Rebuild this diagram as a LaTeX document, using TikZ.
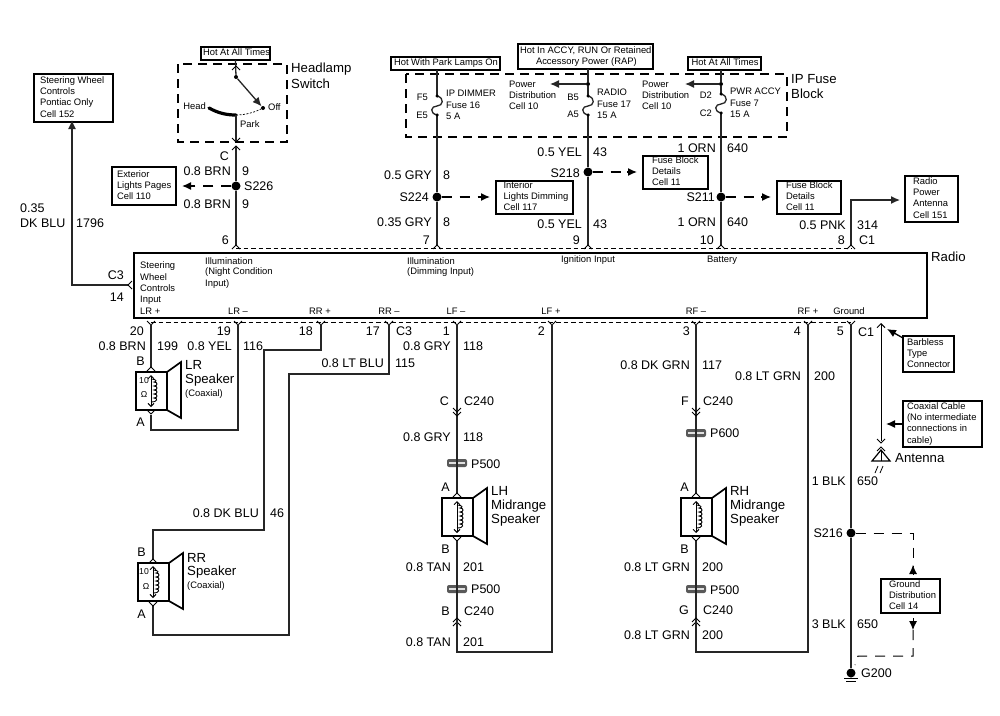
\documentclass[tikz,border=0pt]{standalone}
\usepackage{fontspec}
\setmainfont{Liberation Sans}
\usetikzlibrary{arrows.meta}
\newcounter{txtn}
\newcommand{\bigt}[3]{\stepcounter{txtn}\node[bigtxt,anchor=#1,name=bt\arabic{txtn}] at (#2) {#3};}
\newcommand{\namet}[2]{\stepcounter{txtn}\node[nametxt,anchor=west,name=nt\arabic{txtn}] at (#1) {#2};}
\newcommand{\smallt}[3]{\stepcounter{txtn}\node[smalltxt,anchor=#1,name=st\arabic{txtn}] at (#2) {#3};}
\newcommand{\tinyt}[2]{\stepcounter{txtn}\node[inner sep=0pt,font=\fontsize{8.6}{10}\selectfont,name=tt\arabic{txtn}] at (#1) {#2};}
% name, x1, y1, x2, y2, padding, text
\newcommand{\boxnode}[7]{%
 \pgfmathsetmacro{\bw}{#4-#2}\pgfmathsetmacro{\bh}{#5-#3}%
 \pgfmathsetmacro{\bcx}{(#2+#4)/2}\pgfmathsetmacro{\bcy}{(#3+#5)/2}%
 \pgfmathsetmacro{\btw}{\bw-2*#6}%
 \node[infobox,minimum width=\bw pt,minimum height=\bh pt] (#1) at (\bcx,\bcy) {\makebox[\btw pt][l]{\begin{tabular}{@{}l@{}}#7\end{tabular}}};}
\tikzset{
 bigtxt/.style={inner sep=0pt,font=\fontsize{12.5}{15}\selectfont},
 nametxt/.style={inner sep=0pt,font=\fontsize{13.2}{15}\selectfont},
 smalltxt/.style={inner sep=0pt,font=\fontsize{9.4}{11.4}\selectfont},
 infobox/.style={draw=black,line width=1.7pt,fill=white,inner sep=0pt,outer sep=0pt,font=\fontsize{9.4}{11.2}\selectfont},
 wire/.style={line width=1.3pt,draw=black!85},
 dashwire/.style={line width=1.4pt,draw=black,dash pattern=on 10pt off 8pt},
 thindash/.style={line width=0.9pt,draw=black,dash pattern=on 4.5pt off 3pt},
 blockdash/.style={line width=1.9pt,draw=black,dash pattern=on 9pt off 6pt},
 tip/.style={-{Latex[length=9pt,width=8pt]}},
 jdot/.style={circle,fill=black,inner sep=0pt,minimum size=9pt},
 smalldot/.style={circle,fill=black,inner sep=0pt,minimum size=4pt},
 chevu/.pic={\draw[line width=1pt] (-4,4)--(0,0)--(4,4);},
 chevd/.pic={\draw[line width=1pt] (-4,-4)--(0,0)--(4,-4);},
 plugp/.pic={
   \fill[black!65,rounded corners=2pt] (-10,-4) rectangle (10,4);
   \fill[black!12] (-8,-1.4) rectangle (8,1.4);
   \draw[line width=1.3pt,black!85] (0,-4)--(0,4);},
 speaker/.pic={
   \draw[line width=1.7pt] (-15,0) rectangle (16,38);
   \draw[line width=1.7pt] (16,0)--(30,-10)--(30,46)--(16,38);
   \draw[line width=0.9pt,{Straight Barb[length=3pt,width=6pt]}-{Straight Barb[length=3pt,width=6pt]}] (0,3)--(0,35);
   \draw[line width=0.9pt] (0,7) .. controls (6,7) and (6,10) .. (3,10) .. controls (7,10) and (7,14) .. (3,14)
      .. controls (7,14) and (7,18) .. (3,18) .. controls (7,18) and (7,22) .. (3,22)
      .. controls (7,22) and (7,26) .. (3,26) .. controls (7,26) and (7,30) .. (0,30);},
}
\begin{document}
\begin{tikzpicture}[x=1pt,y=-1pt]
\useasboundingbox (0,0) rectangle (1000,715);
\fill[white] (0,0) rectangle (1000,715);

% ---------- blocks
\draw[blockdash] (178,64) rectangle (287,142);
\draw[blockdash] (406,74) rectangle (787,137);
\draw[line width=1.8pt] (134,253) rectangle (927,318);
\draw[thindash] (236,248) -- (852,248);
\draw[thindash] (151,322) -- (851,322);

% ---------- info boxes
\boxnode{hotA}{201}{47}{270}{60}{2}{Hot At All Times}
\boxnode{hotP}{391}{57}{500}{70}{3}{Hot With Park Lamps On}
\boxnode{hotR}{518}{44}{653}{69}{2}{Hot In ACCY, RUN Or Retained\\\hspace*{16pt}Accessory Power (RAP)}
\boxnode{hotB}{688}{57}{761}{70}{3.5}{Hot At All Times}
\boxnode{swc}{34}{74}{113}{122}{6}{Steering Wheel\\Controls\\Pontiac Only\\Cell 152}
\boxnode{ext}{112}{167}{176}{205}{5}{Exterior\\Lights Pages\\Cell 110}
\boxnode{ild}{496}{181}{573}{214}{7.5}{Interior\\Lights Dimming\\Cell 117}
\boxnode{fb1}{643}{156}{708}{189}{9}{Fuse Block\\Details\\Cell 11}
\boxnode{fb2}{777}{181}{841}{214}{9}{Fuse Block\\Details\\Cell 11}
\boxnode{rpa}{905}{176}{958}{222}{8}{Radio\\Power\\Antenna\\Cell 151}
\boxnode{bar}{903}{336}{954}{372}{4}{Barbless\\Type\\Connector}
\boxnode{coax}{903}{401}{982}{447}{4}{Coaxial Cable\\(No intermediate\\connections in\\cable)}
\boxnode{gnd}{881}{580}{940}{612}{8}{Ground\\Distribution\\Cell 14}

% ---------- junction dots
\node[jdot] (s226) at (236,186) {};
\node[jdot] (s224) at (437,197) {};
\node[jdot] (s218) at (588,172) {};
\node[jdot] (s211) at (721,197) {};
\node[jdot] (s216) at (851,533) {};
\node[jdot] (g200) at (851,673) {};
\node[smalldot] (piv) at (236,77) {};
\node[smalldot] (off) at (263,108) {};
\node[smalldot] (pk1) at (588,84) {};
\node[smalldot] (pk2) at (721,84) {};

% ---------- named points
\coordinate (parkp) at (236,115);
\coordinate (headp) at (209,108);
\coordinate (swbot) at (236,142);
\coordinate (r6) at (236,246);
\coordinate (r7) at (437,246);
\coordinate (r9) at (588,246);
\coordinate (r10) at (721,246);
\coordinate (r8) at (851,246);
\coordinate (c3) at (128,285);
\coordinate (c3k) at (72,285);
\coordinate (f5) at (437,96);
\coordinate (e5) at (437,115);
\coordinate (b5) at (588,96);
\coordinate (a5) at (588,115);
\coordinate (d2) at (721,94);
\coordinate (c2) at (721,113);
\coordinate (pwr1) at (550,84);
\coordinate (pwr2) at (685,84);

% ---------- upper wires
\draw[wire] (hotA.south) -- (piv);
\draw[wire,tip] (piv) -- (off);
\draw[line width=3.2pt,line cap=round] (headp) .. controls (218,113) and (226,115) .. (parkp);
\draw[line width=0.7pt,dash pattern=on 2pt off 1.5pt] (parkp) .. controls (246,115) and (255,112) .. (off);
\draw[wire] (parkp) -- (swbot);
\pic at (236,66) {chevu};
\pic at (236,142) {chevd};
\pic at (236,146) {chevu};
\draw[wire] (236,147) -- (s226) -- (r6);
\pic at (236,245) {chevu};
\draw[dashwire] (s226) -- (192,186);
\draw[tip,line width=1.4pt] (192,186) -- ([xshift=6pt]ext.east);

\draw[wire] (hotP.south -| f5) -- (f5);
\draw[wire] (f5) .. controls (445,98) and (443,106) .. (437,106) .. controls (431,106) and (429,113) .. (e5);
\draw[wire] (e5) -- (s224) -- (r7);
\pic at (437,245) {chevu};
\node[smalldot,minimum size=3.5pt] (f5d) at (f5) {};
\node[smalldot,minimum size=3.5pt] (e5d) at (e5) {};
\draw[dashwire] (s224) -- (480,197);
\draw[tip,line width=1.4pt] (480,197) -- ([xshift=-6pt]ild.west |- s224);

\draw[wire] (hotR.south -| pk1) -- (pk1) -- (b5);
\draw[wire] (b5) .. controls (596,98) and (594,106) .. (588,106) .. controls (582,106) and (580,113) .. (a5);
\draw[wire] (a5) -- (s218) -- (r9);
\pic at (588,245) {chevu};
\node[smalldot,minimum size=3.5pt] (b5d) at (b5) {};
\node[smalldot,minimum size=3.5pt] (a5d) at (a5) {};
\draw[wire,tip] (pk1) -- (pwr1);
\draw[dashwire] (s218) -- (627,172);
\draw[tip,line width=1.4pt] (627,172) -- ([xshift=-6pt]fb1.west |- s218);

\draw[wire] (hotB.south -| pk2) -- (pk2) -- (d2);
\draw[wire] (d2) .. controls (729,96) and (727,104) .. (721,104) .. controls (715,104) and (713,111) .. (c2);
\draw[wire] (c2) -- (s211) -- (r10);
\pic at (721,245) {chevu};
\node[smalldot,minimum size=3.5pt] (d2d) at (d2) {};
\node[smalldot,minimum size=3.5pt] (c2d) at (c2) {};
\draw[wire,tip] (pk2) -- (pwr2);
\draw[dashwire] (s211) -- (761,197);
\draw[tip,line width=1.4pt] (761,197) -- ([xshift=-6pt]fb2.west |- s211);

\draw[wire,tip] (r8) |- ([xshift=-5pt]rpa.west |- 851,200);
\pic at (851,245) {chevu};

\draw[wire,tip] (c3) -- (c3k) -- ([yshift=2pt]swc.south -| c3k);
\draw[line width=1pt] (132,281)--(128,285)--(132,289);

% ---------- lower wires
\coordinate (l20) at (151,324);  \coordinate (lrB) at (151,367);
\coordinate (l19) at (238,324);  \coordinate (lrA) at (151,415); \coordinate (l19c) at (238,430); \coordinate (l19d) at (151,430);
\coordinate (l18) at (321,324);  \coordinate (l18a) at (321,350); \coordinate (l18b) at (264,350); \coordinate (l18c) at (264,530); \coordinate (l18d) at (153,530); \coordinate (rrB) at (153,559);
\coordinate (l17) at (389,324);  \coordinate (l17a) at (389,374); \coordinate (l17b) at (289,374); \coordinate (l17c) at (289,635); \coordinate (l17d) at (153,635); \coordinate (rrA) at (153,606);
\coordinate (l1) at (457,324);
\coordinate (l2) at (552,324); \coordinate (l2a) at (552,652); \coordinate (l1e) at (457,652);
\coordinate (l3) at (696,324);
\coordinate (l4) at (808,324); \coordinate (l4a) at (808,652); \coordinate (l3e) at (696,652);
\coordinate (l5) at (851,324);

\foreach \xx in {151,238,321,389,457,552,696,808,851} {\pic at (\xx,325) {chevd};}

\draw[wire] (l20) -- (lrB);
\pic at (151,367) {chevu};
\pic at (151,414) {chevd};
\draw[wire] (l19) -- (l19c) -- (l19d) -- (lrA);
\draw[wire] (l18) -- (l18a) -- (l18b) -- (l18c) -- (l18d) -- (rrB);
\pic at (153,559) {chevu};
\draw[wire] (l17) -- (l17a) -- (l17b) -- (l17c) -- (l17d) -- (rrA);
\pic at (153,606) {chevd};

\pic at (151,372) {speaker};
\pic at (153,563) {speaker};
\pic at (457,498) {speaker};
\pic at (696,498) {speaker};

% LH midrange path
\draw[wire] (l1) -- (457,493);
\pic at (457,412) {chevd};
\pic at (457,416) {chevd};
\pic at (457,463) {plugp};
\pic at (457,493) {chevu};
\pic at (457,541) {chevd};
\draw[wire] (457,541) -- (457,619);
\pic at (457,589) {plugp};
\pic at (457,618) {chevu};
\pic at (457,622) {chevu};
\draw[wire] (457,619) -- (l1e) -- (l2a) -- (l2);

% RH midrange path
\draw[wire] (l3) -- (696,493);
\pic at (696,412) {chevd};
\pic at (696,416) {chevd};
\pic at (696,433) {plugp};
\pic at (696,493) {chevu};
\pic at (696,541) {chevd};
\draw[wire] (696,541) -- (696,619);
\pic at (696,589) {plugp};
\pic at (696,618) {chevu};
\pic at (696,622) {chevu};
\draw[wire] (696,619) -- (l3e) -- (l4a) -- (l4);

% ground
\draw[wire] (l5) -- (s216) -- (g200);
\draw[line width=0.9pt] (844,678)--(858,678) (846,681)--(856,681);
\coordinate (gt) at (913,533);
\coordinate (gb) at (913,656);
\coordinate (gc) at (858,656);
\draw[dashwire,line width=1pt] (s216) -- (gt) -- (913,566);
\draw[line width=0.9pt,tip] (913,574) -- (913,565);
\draw[line width=0.9pt,tip] (913,618) -- (913,630);
\draw[dashwire,line width=1pt] (913,630) -- (gb) -- (gc) -- (855,665);

% antenna
\coordinate (ant) at (881,450);
\coordinate (antt) at (881,323);
\draw[line width=1pt,{Straight Barb[length=4pt,width=8pt]}-] (antt) -- (881,441);
\pic at (881,443) {chevd};
\pic at (881,447) {chevu};
\draw[line width=1.2pt] (881,450)--(872,461)--(890,461)--cycle;
\draw[line width=1pt] (881,450)--(881,461);
\draw[line width=0.8pt] (878,466)--(875,473) (883,466)--(880,473);
\draw[tip,line width=1.3pt] (bar.north west) ++(0,2) -- (887,329);
\draw[tip,line width=1.3pt] (coax.west |- 0,424) -- (886,424);

% ---------- name labels
\namet{291,69}{Headlamp}
\namet{291,84}{Switch}
\namet{791,79}{IP Fuse}
\namet{791,94}{Block}
\namet{931,257}{Radio}
\namet{185,365}{LR}
\namet{185,380}{Speaker}
\namet{187,558}{RR}
\namet{187,572}{Speaker}
\namet{491,491}{LH}
\namet{491,506}{Midrange}
\namet{491,520}{Speaker}
\namet{730,491}{RH}
\namet{730,506}{Midrange}
\namet{730,520}{Speaker}
\namet{895,458}{Antenna}

% ---------- big labels
\bigt{west}{20,208}{0.35}
\bigt{west}{20,223}{DK BLU}
\bigt{west}{76,223}{1796}
\bigt{east}{124,275}{C3}
\bigt{east}{124,297}{14}
\bigt{east}{229,156}{C}
\bigt{east}{231,171}{0.8 BRN}
\bigt{west}{242,171}{9}
\bigt{west}{244,186}{S226}
\bigt{east}{231,204}{0.8 BRN}
\bigt{west}{242,204}{9}
\bigt{east}{229,240}{6}
\bigt{east}{432,175}{0.5 GRY}
\bigt{west}{443,175}{8}
\bigt{east}{429,197}{S224}
\bigt{east}{432,222}{0.35 GRY}
\bigt{west}{443,222}{8}
\bigt{east}{430,240}{7}
\bigt{east}{582,152}{0.5 YEL}
\bigt{west}{593,152}{43}
\bigt{east}{580,173}{S218}
\bigt{east}{582,224}{0.5 YEL}
\bigt{west}{593,224}{43}
\bigt{east}{580,240}{9}
\bigt{east}{716,148}{1 ORN}
\bigt{west}{727,148}{640}
\bigt{east}{715,197}{S211}
\bigt{east}{716,222}{1 ORN}
\bigt{west}{727,222}{640}
\bigt{east}{714,240}{10}
\bigt{east}{846,225}{0.5 PNK}
\bigt{west}{857,225}{314}
\bigt{east}{845,240}{8}
\bigt{west}{859,240}{C1}
% lower
\bigt{east}{144,331}{20}
\bigt{east}{231,331}{19}
\bigt{east}{313,331}{18}
\bigt{east}{380,331}{17}
\bigt{west}{396,331}{C3}
\bigt{east}{146,346}{0.8 BRN}
\bigt{west}{157,346}{199}
\bigt{east}{232,346}{0.8 YEL}
\bigt{west}{243,346}{116}
\bigt{east}{384,363}{0.8 LT BLU}
\bigt{west}{395,363}{115}
\bigt{east}{145,361}{B}
\bigt{east}{145,422}{A}
\bigt{east}{259,513}{0.8 DK BLU}
\bigt{west}{270,513}{46}
\bigt{east}{146,552}{B}
\bigt{east}{146,614}{A}
% LH
\bigt{east}{450,331}{1}
\bigt{east}{545,331}{2}
\bigt{east}{451,346}{0.8 GRY}
\bigt{west}{463,346}{118}
\bigt{east}{449,401}{C}
\bigt{west}{464,401}{C240}
\bigt{east}{451,437}{0.8 GRY}
\bigt{west}{463,437}{118}
\bigt{west}{471,464}{P500}
\bigt{east}{450,487}{A}
\bigt{east}{450,549}{B}
\bigt{east}{451,567}{0.8 TAN}
\bigt{west}{463,567}{201}
\bigt{west}{471,589}{P500}
\bigt{east}{450,611}{B}
\bigt{west}{464,611}{C240}
\bigt{east}{451,642}{0.8 TAN}
\bigt{west}{463,642}{201}
% RH
\bigt{east}{690,331}{3}
\bigt{east}{801,331}{4}
\bigt{east}{844,331}{5}
\bigt{west}{858,332}{C1}
\bigt{east}{690,365}{0.8 DK GRN}
\bigt{west}{702,365}{117}
\bigt{east}{801,376}{0.8 LT GRN}
\bigt{west}{814,376}{200}
\bigt{east}{689,401}{F}
\bigt{west}{703,401}{C240}
\bigt{west}{710,433}{P600}
\bigt{east}{689,487}{A}
\bigt{east}{689,549}{B}
\bigt{east}{690,567}{0.8 LT GRN}
\bigt{west}{702,567}{200}
\bigt{west}{710,590}{P500}
\bigt{east}{689,610}{G}
\bigt{west}{703,610}{C240}
\bigt{east}{690,635}{0.8 LT GRN}
\bigt{west}{702,635}{200}
\bigt{east}{846,481}{1 BLK}
\bigt{west}{857,481}{650}
\bigt{east}{843,533}{S216}
\bigt{east}{846,624}{3 BLK}
\bigt{west}{857,624}{650}
\bigt{west}{861,673}{G200}

% ---------- small labels
\smallt{east}{206,106}{Head}
\smallt{west}{268,107}{Off}
\smallt{west}{240,124}{Park}
\smallt{east}{428,97}{F5}
\smallt{east}{428,115}{E5}
\smallt{west}{446,93}{IP DIMMER}
\smallt{west}{446,105}{Fuse 16}
\smallt{west}{446,116}{5 A}
\smallt{west}{509,84}{Power}
\smallt{west}{509,95}{Distribution}
\smallt{west}{509,106}{Cell 10}
\smallt{east}{579,97}{B5}
\smallt{east}{579,114}{A5}
\smallt{west}{597,92}{RADIO}
\smallt{west}{597,104}{Fuse 17}
\smallt{west}{597,115}{15 A}
\smallt{west}{642,84}{Power}
\smallt{west}{642,95}{Distribution}
\smallt{west}{642,106}{Cell 10}
\smallt{east}{712,95}{D2}
\smallt{east}{712,113}{C2}
\smallt{west}{730,91}{PWR ACCY}
\smallt{west}{730,103}{Fuse 7}
\smallt{west}{730,114}{15 A}
\smallt{west}{140,266}{Steering}
\smallt{west}{140,277}{Wheel}
\smallt{west}{140,288}{Controls}
\smallt{west}{140,300}{Input}
\smallt{west}{140,311}{LR +}
\smallt{west}{205,261}{Illumination}
\smallt{west}{205,272}{(Night Condition}
\smallt{west}{205,284}{Input)}
\smallt{center}{238,311}{LR –}
\smallt{center}{320,311}{RR +}
\smallt{center}{389,311}{RR –}
\smallt{center}{456,311}{LF –}
\smallt{center}{551,311}{LF +}
\smallt{center}{696,311}{RF –}
\smallt{center}{808,311}{RF +}
\smallt{center}{849,311}{Ground}
\smallt{west}{407,261}{Illumination}
\smallt{west}{407,272}{(Dimming Input)}
\smallt{center}{588,260}{Ignition Input}
\smallt{west}{707,260}{Battery}
\smallt{west}{185,394}{(Coaxial)}
\smallt{west}{187,586}{(Coaxial)}
\tinyt{144,381}{10}
\tinyt{144,394}{Ω}
\tinyt{144,572}{10}
\tinyt{146,586}{Ω}
\end{tikzpicture}
\end{document}
